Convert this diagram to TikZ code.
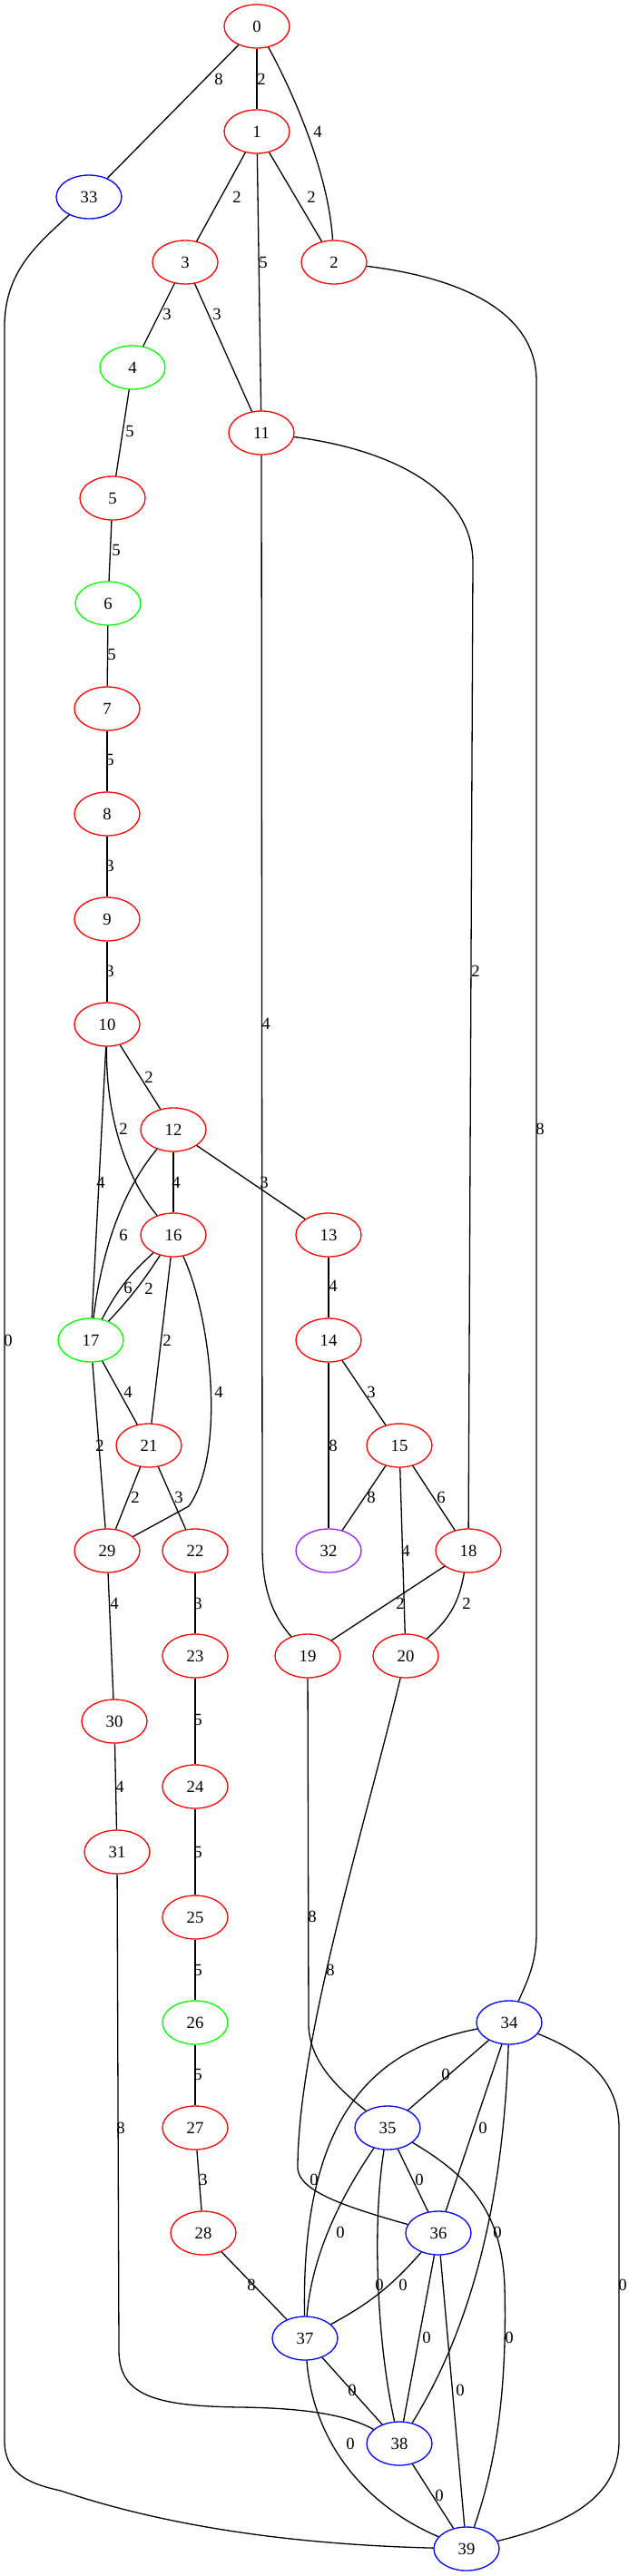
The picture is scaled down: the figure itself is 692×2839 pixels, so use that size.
\documentclass[tikz,border=0pt]{standalone}
\usepackage{fontspec}
\setmainfont{Liberation Serif}
\usepackage{tikz}
\usetikzlibrary{shapes.geometric}
\definecolor{gvpurple}{HTML}{A020F0}

\begin{document}
\begin{tikzpicture}[x=0.5pt,y=0.5pt,
  every node/.style={font=\fontsize{9.33}{11}\selectfont},
  vert/.style={draw,ellipse,line width=0.65pt,minimum width=36pt,minimum height=24pt,inner sep=0pt},
  rv/.style={vert,draw=red},
  gv/.style={vert,draw=green},
  bv/.style={vert,draw=blue},
  pv/.style={vert,draw=gvpurple},
  link/.style={line width=0.65pt},
  lbl/.style={inner sep=0pt}
]
  \useasboundingbox (0,0) rectangle (692,-2839);
  % vertices
  \node[rv] (n0) at (283,-29) {0};
  \node[rv] (n1) at (283,-145) {1};
  \node[bv] (n33) at (98,-217) {33};
  \node[rv] (n3) at (204,-289) {3};
  \node[rv] (n2) at (368,-289) {2};
  \node[gv] (n4) at (146,-405) {4};
  \node[rv] (n11) at (288,-477) {11};
  \node[rv] (n5) at (124,-549) {5};
  \node[gv] (n6) at (119,-665) {6};
  \node[rv] (n7) at (118,-781) {7};
  \node[rv] (n8) at (118,-897) {8};
  \node[rv] (n9) at (118,-1013) {9};
  \node[rv] (n10) at (118,-1129) {10};
  \node[rv] (n12) at (191,-1245) {12};
  \node[rv] (n16) at (191,-1361) {16};
  \node[rv] (n13) at (362,-1361) {13};
  \node[gv] (n17) at (100,-1477) {17};
  \node[rv] (n14) at (362,-1477) {14};
  \node[rv] (n21) at (164,-1593) {21};
  \node[rv] (n15) at (440,-1593) {15};
  \node[rv] (n29) at (118,-1709) {29};
  \node[rv] (n22) at (215,-1709) {22};
  \node[pv] (n32) at (362,-1709) {32};
  \node[rv] (n18) at (516,-1709) {18};
  \node[rv] (n23) at (215,-1825) {23};
  \node[rv] (n19) at (339,-1825) {19};
  \node[rv] (n20) at (447,-1825) {20};
  \node[rv] (n30) at (126,-1897) {30};
  \node[rv] (n24) at (215,-1969) {24};
  \node[rv] (n31) at (129,-2041) {31};
  \node[rv] (n25) at (215,-2113) {25};
  \node[gv] (n26) at (215,-2229) {26};
  \node[bv] (n34) at (561,-2229) {34};
  \node[rv] (n27) at (215,-2345) {27};
  \node[bv] (n35) at (427,-2345) {35};
  \node[rv] (n28) at (224,-2461) {28};
  \node[bv] (n36) at (483,-2461) {36};
  \node[bv] (n37) at (336,-2577) {37};
  \node[bv] (n38) at (440,-2693) {38};
  \node[bv] (n39) at (514,-2809) {39};

  % edges with weights
  \draw[link] (n0) -- (n33) node[lbl] (w0a) at (241,-87) {8};
  \draw[link] (n0) -- (n1) node[lbl] (w0b) at (288,-87) {2};
  \draw[link] (n0) .. controls (322,-100) and (362,-190) .. (n2) node[lbl] (w0c) at (350,-145) {4};
  \draw[link] (n1) -- (n3) node[lbl] (w1a) at (261,-217) {2};
  \draw[link] (n1) -- (n2) node[lbl] (w1b) at (343,-217) {2};
  \draw[link] (n1) -- (n11) node[lbl] (w1c) at (290,-289) {5};
  \draw[link] (n3) -- (n4) node[lbl] (w3a) at (184,-346) {3};
  \draw[link] (n3) -- (n11) node[lbl] (w3b) at (239,-346) {3};
  \draw[link] (n2) .. controls (500,-305) and (591,-340) .. (591,-420) -- (591,-2130)
    .. controls (591,-2165) and (580,-2185) .. (n34) node[lbl] (w2a) at (595,-1244) {8};
  \draw[link] (n33) .. controls (40,-270) and (5,-300) .. (5,-360) -- (5,-2690)
    .. controls (5,-2725) and (30,-2737) .. (67,-2745)
    .. controls (200,-2790) and (350,-2805) .. (n39) node[lbl] (w33a) at (9,-1477) {0};
  \draw[link] (n4) -- (n5) node[lbl] (w4a) at (143,-475) {5};
  \draw[link] (n11) .. controls (430,-495) and (521,-540) .. (521,-620) -- (n18)
    node[lbl] (w11a) at (524,-1070) {2};
  \draw[link] (n11) -- (289,-1705) .. controls (289,-1760) and (305,-1785) .. (n19)
    node[lbl] (w11b) at (293,-1128) {4};
  \draw[link] (n5) -- (n6) node[lbl] (w5a) at (128,-606) {5};
  \draw[link] (n6) -- (n7) node[lbl] (w6a) at (123,-721) {5};
  \draw[link] (n7) -- (n8) node[lbl] (w7a) at (121,-837) {5};
  \draw[link] (n8) -- (n9) node[lbl] (w8a) at (121,-954) {3};
  \draw[link] (n9) -- (n10) node[lbl] (w9a) at (121,-1070) {3};
  \draw[link] (n10) -- (n12) node[lbl] (w10a) at (164,-1187) {2};
  \draw[link] (n10) .. controls (116,-1230) and (140,-1300) .. (n16) node[lbl] (w10b) at (136,-1244) {2};
  \draw[link] (n10) -- (n17) node[lbl] (w10c) at (111,-1303) {4};
  \draw[link] (n12) -- (n16) node[lbl] (w12a) at (194,-1303) {4};
  \draw[link] (n12) .. controls (128,-1320) and (110,-1395) .. (n17) node[lbl] (w12b) at (136,-1361) {6};
  \draw[link] (n12) -- (n13) node[lbl] (w12c) at (291,-1303) {3};
  \draw[link] (n16) to[bend right=10] (n17) node[lbl] (w16a) at (141,-1419) {6};
  \draw[link] (n16) to[bend left=5] (n17) node[lbl] (w16b) at (164,-1420) {2};
  \draw[link] (n16) -- (n21) node[lbl] (w16c) at (184,-1477) {2};
  \draw[link] (n16) .. controls (232,-1450) and (250,-1600) .. (208,-1660) -- (n29)
    node[lbl] (w16d) at (241,-1534) {4};
  \draw[link] (n13) -- (n14) node[lbl] (w13a) at (367,-1417) {4};
  \draw[link] (n14) -- (n15) node[lbl] (w14a) at (409,-1534) {3};
  \draw[link] (n14) -- (n32) node[lbl] (w14b) at (367,-1593) {8};
  \draw[link] (n17) -- (n21) node[lbl] (w17a) at (141,-1534) {4};
  \draw[link] (n17) -- (n29) node[lbl] (w17b) at (110,-1593) {2};
  \draw[link] (n21) -- (n29) node[lbl] (w21a) at (149,-1650) {2};
  \draw[link] (n21) -- (n22) node[lbl] (w21b) at (197,-1650) {3};
  \draw[link] (n15) -- (n32) node[lbl] (w15a) at (409,-1650) {8};
  \draw[link] (n15) -- (n20) node[lbl] (w15b) at (447,-1709) {4};
  \draw[link] (n15) -- (n18) node[lbl] (w15c) at (486,-1650) {6};
  \draw[link] (n18) -- (n19) node[lbl] (w18a) at (441,-1767) {2};
  \draw[link] (n18) to[bend left=20] (n20) node[lbl] (w18b) at (514,-1767) {2};
  \draw[link] (n29) -- (n30) node[lbl] (w29a) at (126,-1767) {4};
  \draw[link] (n22) -- (n23) node[lbl] (w22a) at (218,-1767) {3};
  \draw[link] (n23) -- (n24) node[lbl] (w23a) at (218,-1895) {5};
  \draw[link] (n30) -- (n31) node[lbl] (w30a) at (132,-1969) {4};
  \draw[link] (n24) -- (n25) node[lbl] (w24a) at (218,-2041) {5};
  \draw[link] (n19) -- (340,-2230) .. controls (340,-2270) and (370,-2300) .. (n35)
    node[lbl] (w19a) at (344,-2112) {8};
  \draw[link] (n20) .. controls (400,-2020) and (328,-2250) .. (328,-2390)
    .. controls (330,-2415) and (380,-2432) .. (n36) node[lbl] (w20a) at (364,-2171) {8};
  \draw[link] (n25) -- (n26) node[lbl] (w25a) at (218,-2171) {5};
  \draw[link] (n26) -- (n27) node[lbl] (w26a) at (218,-2286) {5};
  \draw[link] (n31) -- (131,-2590) .. controls (131,-2640) and (170,-2652) .. (267,-2653)
    .. controls (330,-2654) and (380,-2660) .. (n38) node[lbl] (w31a) at (133,-2345) {8};
  \draw[link] (n34) -- (n35) node[lbl] (w34a) at (491,-2286) {0};
  \draw[link] (n34) .. controls (430,-2255) and (331,-2310) .. (n37) node[lbl] (w34b) at (346,-2402) {0};
  \draw[link] (n34) -- (n36) node[lbl] (w34c) at (532,-2345) {0};
  \draw[link] (n34) .. controls (556,-2380) and (535,-2540) .. (n38) node[lbl] (w34d) at (548,-2460) {0};
  \draw[link] (n34) .. controls (640,-2260) and (682,-2290) .. (682,-2345) -- (682,-2690)
    .. controls (682,-2760) and (610,-2785) .. (n39) node[lbl] (w34e) at (686,-2518) {0};
  \draw[link] (n27) -- (n28) node[lbl] (w27a) at (224,-2402) {3};
  \draw[link] (n35) -- (n36) node[lbl] (w35a) at (462,-2402) {0};
  \draw[link] (n35) .. controls (390,-2400) and (345,-2470) .. (n37) node[lbl] (w35b) at (375,-2460) {0};
  \draw[link] (n35) .. controls (410,-2450) and (415,-2580) .. (n38) node[lbl] (w35c) at (418,-2518) {0};
  \draw[link] (n35) .. controls (520,-2400) and (553,-2440) .. (556,-2520)
    .. controls (559,-2640) and (545,-2720) .. (n39) node[lbl] (w35d) at (561,-2576) {0};
  \draw[link] (n28) -- (n37) node[lbl] (w28a) at (277,-2518) {8};
  \draw[link] (n36) to[bend left=10] (n37) node[lbl] (w36a) at (444,-2518) {0};
  \draw[link] (n36) -- (n38) node[lbl] (w36b) at (470,-2576) {0};
  \draw[link] (n36) -- (n39) node[lbl] (w36c) at (507,-2634) {0};
  \draw[link] (n37) -- (n38) node[lbl] (w37a) at (388,-2634) {0};
  \draw[link] (n37) .. controls (345,-2690) and (400,-2760) .. (n39) node[lbl] (w37b) at (386,-2693) {0};
  \draw[link] (n38) -- (n39) node[lbl] (w38a) at (484,-2750) {0};
\end{tikzpicture}
\end{document}
